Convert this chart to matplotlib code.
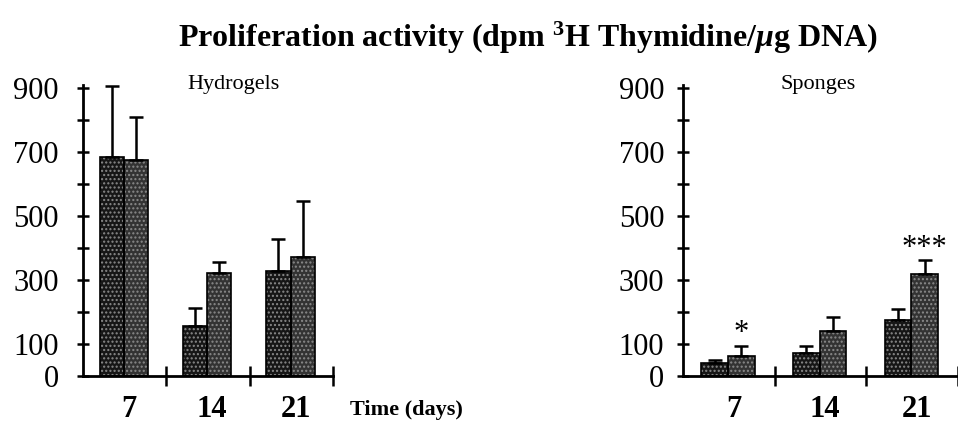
import matplotlib
matplotlib.use("Agg")
import matplotlib.pyplot as plt
import numpy as np

plt.rcParams['font.family'] = ['Liberation Serif', 'DejaVu Serif']
plt.rcParams['mathtext.fontset'] = 'custom'
plt.rcParams['mathtext.rm'] = 'Liberation Serif:bold'
plt.rcParams['mathtext.it'] = 'Liberation Serif:italic:bold'
plt.rcParams['mathtext.bf'] = 'Liberation Serif:bold'

days = ['7', '14', '21']
ytick_labels = ['0', '100', '', '300', '', '500', '', '700', '', '900']

# proliferation (dpm 3H thymidine / ug DNA), two series per material, mean and upper SD
hydro_a = [684, 156, 328]
hydro_a_sd = [222, 56, 100]
hydro_b = [675, 322, 372]
hydro_b_sd = [134, 34, 175]

sponge_a = [40, 71, 175]
sponge_a_sd = [10, 23, 34]
sponge_b = [62, 141, 319]
sponge_b_sd = [32, 43, 43]
sponge_marks = ['*', '', '***']

fig = plt.figure(figsize=(9.58, 4.30), dpi=100)
ax1 = fig.add_axes([83/958, 54/430, 250/958, 291/430])
ax2 = fig.add_axes([683/958, 54/430, 275/958, 291/430])


def draw_panel(ax, a, a_sd, b, b_sd, offset, name, name_x, pad):
    x = np.arange(len(days))
    w = 0.29
    for vals, sd, col, dx in [(a, a_sd, '#161616', offset), (b, b_sd, '#333333', offset + w)]:
        # speckled fill, then a plain outline on top
        ax.bar(x + dx, vals, width=w, align='edge', color=col, hatch='....',
               edgecolor='#8a8a8a', linewidth=0, zorder=2)
        ax.bar(x + dx, vals, width=w, align='edge', fill=False,
               edgecolor='black', linewidth=1.2, zorder=3)
        ax.errorbar(x + dx + w / 2, vals, yerr=[np.zeros(len(vals)), sd], fmt='none',
                    ecolor='black', elinewidth=1.8, capsize=5, capthick=1.8, zorder=4)
    ax.set_xlim(0, 3)
    ax.set_ylim(0, 910)
    for s in ['top', 'right']:
        ax.spines[s].set_visible(False)
    ax.spines['left'].set_linewidth(2)
    ax.spines['bottom'].set_linewidth(2)
    ax.set_yticks(np.arange(0, 1000, 100))
    ax.set_yticklabels(ytick_labels)
    ax.tick_params(axis='y', direction='inout', length=9, width=1.8, labelsize=22, pad=pad)
    ax.set_xticks(x + 0.55)
    ax.set_xticklabels(days, fontweight='bold')
    ax.tick_params(axis='x', length=0, labelsize=22, pad=14)
    ax.set_xticks([1, 2, 3], minor=True)
    ax.tick_params(axis='x', which='minor', direction='inout', length=14, width=1.8)
    ax.text(name_x, 1.0, name, transform=ax.transAxes, fontsize=16, ha='center', va='center')
    return x


draw_panel(ax1, hydro_a, hydro_a_sd, hydro_b, hydro_b_sd, 0.2, 'Hydrogels', 0.6, 13)
x = draw_panel(ax2, sponge_a, sponge_a_sd, sponge_b, sponge_b_sd, 0.2, 'Sponges', 0.49, 9)

for i, m in enumerate(sponge_marks):
    if m:
        top = sponge_b[i] + sponge_b_sd[i]
        ax2.text(x[i] + 0.2 + 0.29 * 1.5, top + 38, m, fontsize=22, ha='center', va='center')

fig.text(406/958, 1 - 410/430, 'Time (days)', fontsize=16, fontweight='bold',
         ha='center', va='center')
fig.text(528/958, 1 - 38/430, r'Proliferation activity (dpm $^{3}$H Thymidine/$\mu$g DNA)',
         fontsize=23, fontweight='bold', ha='center', va='center')

fig.savefig('out.png', dpi=100)
